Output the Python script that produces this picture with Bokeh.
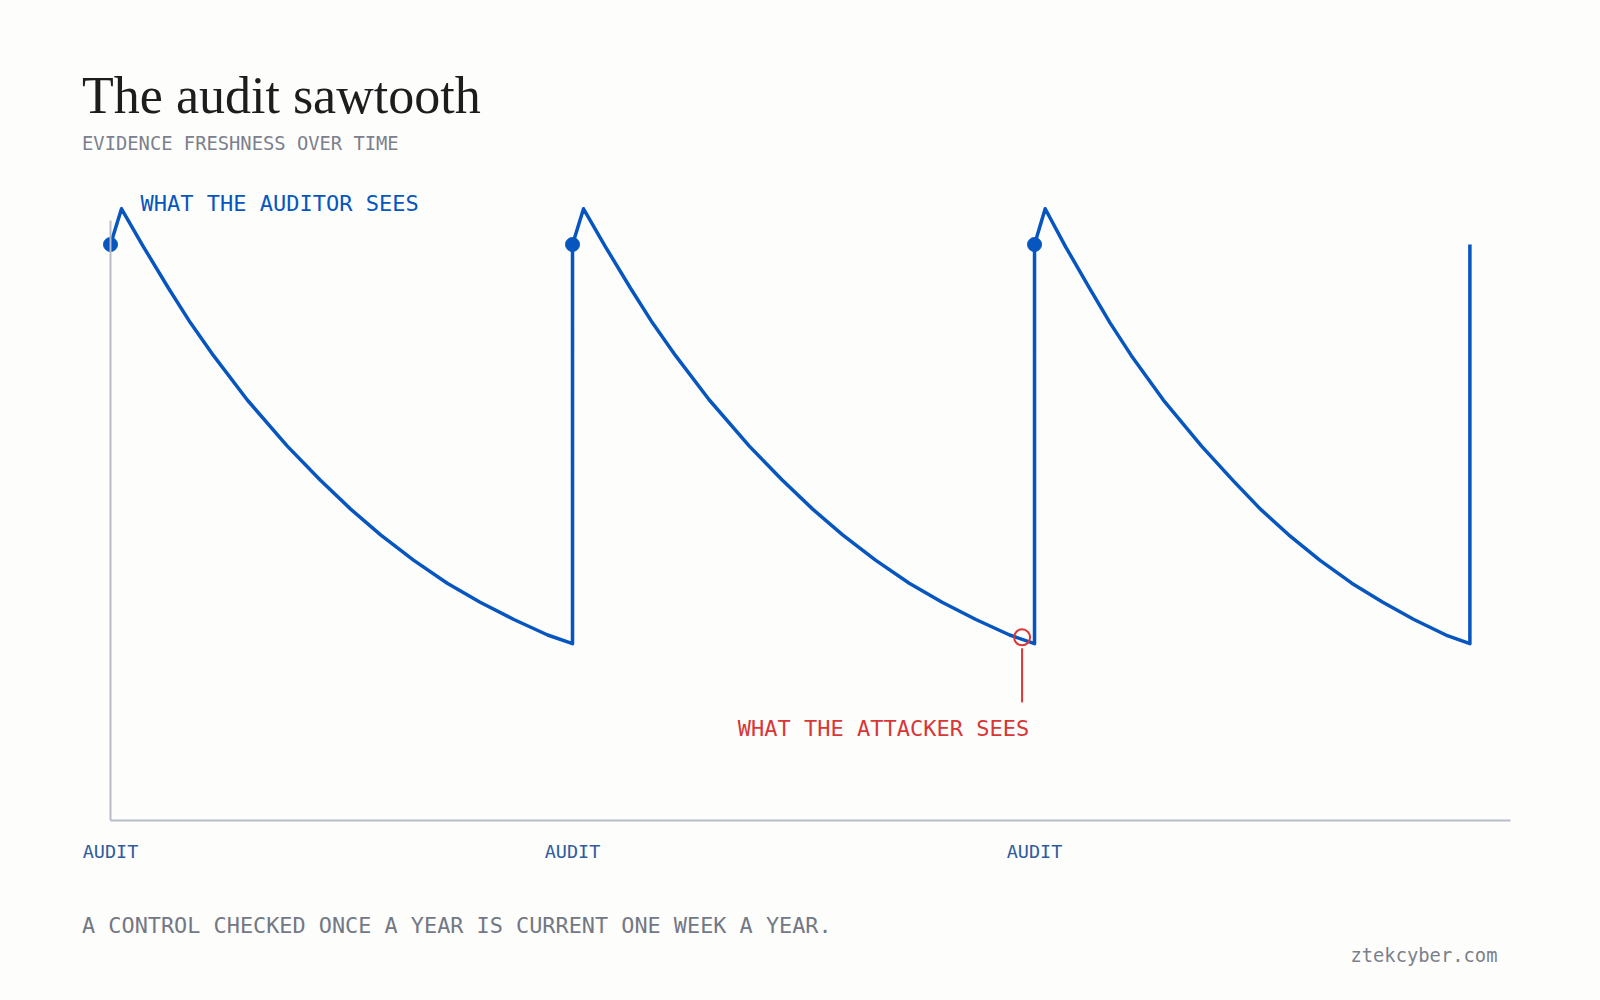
from bokeh.plotting import figure
from bokeh.models import Range1d, Label, FixedTicker
from bokeh.embed import file_html
from bokeh.resources import INLINE

# ---- data (weeks since first audit, evidence freshness score) ----
weeks = [0, 1.24, 3.71, 6.53, 9.0, 11.6, 15.4, 19.9, 23.6, 27.0, 30.4, 34.1, 37.9, 41.6, 45.4, 49.2, 52.0,
         52.0, 53.24, 55.71, 58.53, 61.0, 63.6, 67.4, 71.9, 75.6, 79.0, 82.4, 86.1, 89.9, 93.6, 97.4, 101.2, 104.0,
         104.0, 105.2, 107.5, 110.2, 112.5, 114.9, 118.5, 122.8, 126.3, 129.4, 132.6, 136.1, 139.7, 143.2, 146.7, 150.3, 153.0,
         153.0]
freshness = [100, 106.2, 99.6, 92.4, 86.4, 80.7, 73.0, 65.0, 59.1, 54.1, 49.6, 45.2, 41.2, 37.9, 34.9, 32.2, 30.7,
             100, 106.2, 99.6, 92.4, 86.4, 80.7, 73.0, 65.0, 59.1, 54.1, 49.6, 45.2, 41.2, 37.9, 34.9, 32.2, 30.7,
             100, 106.2, 99.6, 92.4, 86.4, 80.7, 73.0, 65.0, 59.1, 54.1, 49.6, 45.2, 41.2, 37.9, 34.9, 32.2, 30.7,
             100]

audit_weeks = [0, 52, 104]
audit_fresh = [100, 100, 100]
audit_labels = ["AUDIT", "AUDIT", "AUDIT"]

attacker_week = [102.6]
attacker_fresh = [31.8]
callout_top = [29.9]
callout_bottom = [20.5]

BLUE = "#0756bf"
RED = "#d93636"
GRAY_AXIS = "#b6bbc6"
GRAY_TEXT = "#7b808c"
BG = "#fdfdfc"
MONO = "DejaVu Sans Mono"

p = figure(width=1600, height=1000, output_backend="svg", toolbar_location=None,
           x_range=Range1d(-12.38, 167.70), y_range=Range1d(-31.25, 142.36),
           min_border=0)
p.background_fill_color = BG
p.border_fill_color = BG
p.outline_line_color = None
p.xgrid.visible = False
p.ygrid.visible = False

# axes (anchored at the data origin)
p.xaxis.fixed_location = 0
p.xaxis.bounds = (0, 157.6)
p.xaxis.ticker = FixedTicker(ticks=audit_weeks)
p.xaxis.major_label_overrides = {w: t for w, t in zip(audit_weeks, audit_labels)}
p.xaxis.major_label_text_font = MONO
p.xaxis.major_label_text_font_size = "18.5px"
p.xaxis.major_label_text_color = "#2f5c9e"
p.xaxis.major_label_standoff = 15
p.xaxis.major_tick_line_color = None
p.xaxis.minor_tick_line_color = None
p.xaxis.axis_line_color = GRAY_AXIS
p.xaxis.axis_line_width = 2

p.yaxis.fixed_location = 0
p.yaxis.bounds = (0, 104.2)
p.yaxis.ticker = FixedTicker(ticks=[])
p.yaxis.major_tick_line_color = None
p.yaxis.minor_tick_line_color = None
p.yaxis.major_label_text_color = None
p.yaxis.axis_line_color = GRAY_AXIS
p.yaxis.axis_line_width = 2

# sawtooth
p.line(weeks, freshness, line_color=BLUE, line_width=3.5, line_join="round")
p.scatter(audit_weeks, audit_fresh, size=14, fill_color=BLUE, line_color=BLUE)

# attacker callout
p.segment(x0=attacker_week, y0=callout_top, x1=attacker_week, y1=callout_bottom,
          line_color=RED, line_width=2)
p.scatter(attacker_week, attacker_fresh, size=16, fill_color=None, line_color=RED, line_width=2)

# texts
p.add_layout(Label(x=3.38, y=107.1, text="WHAT THE AUDITOR SEES", text_font=MONO,
                   text_font_size="22px", text_color=BLUE, text_baseline="alphabetic"))
p.add_layout(Label(x=70.6, y=15.97, text="WHAT THE ATTACKER SEES", text_font=MONO,
                   text_font_size="22px", text_color=RED, text_baseline="alphabetic"))

p.add_layout(Label(x=-3.2, y=125.9, text="The audit sawtooth", text_font="Liberation Serif",
                   text_font_size="52px", text_color="#1d1d1d", text_baseline="alphabetic"))
p.add_layout(Label(x=-3.2, y=117.6, text="EVIDENCE FRESHNESS OVER TIME", text_font=MONO,
                   text_font_size="18.8px", text_color=GRAY_TEXT, text_baseline="alphabetic"))
p.add_layout(Label(x=-3.2, y=-18.3, text="A CONTROL CHECKED ONCE A YEAR IS CURRENT ONE WEEK A YEAR.",
                   text_font=MONO, text_font_size="21.85px", text_color="#737884", text_baseline="alphabetic"))
p.add_layout(Label(x=156.1, y=-23.45, text="ztekcyber.com", text_font=MONO,
                   text_font_size="18.8px", text_color=GRAY_TEXT, text_align="right",
                   text_baseline="alphabetic"))

open("out.html", "w").write(file_html(p, INLINE))
